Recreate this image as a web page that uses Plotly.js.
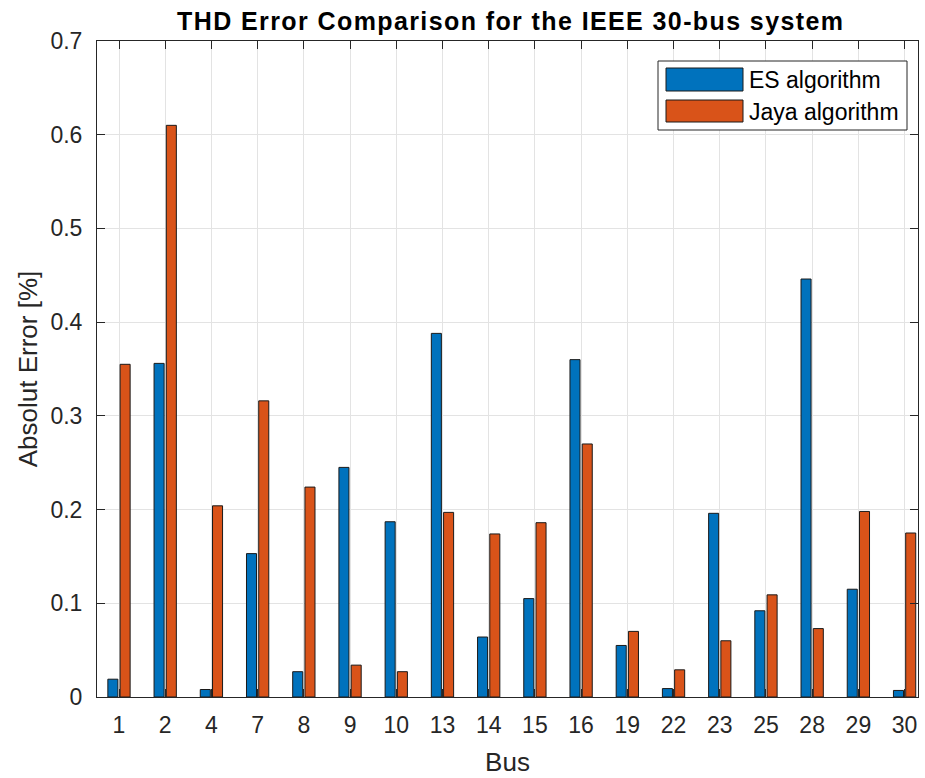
<!DOCTYPE html>
<html>
<head>
<meta charset="utf-8">
<script src="https://cdn.plot.ly/plotly-3.0.1.min.js"></script>
<style>
  html, body { margin: 0; padding: 0; background: #ffffff; }
  #chart { width: 925px; height: 778px; }
  /* slightly wider tracking for the bold chart title */
  #chart .gtitle { letter-spacing: 1.4px; }
</style>
</head>
<body>
<div id="chart"></div>
<script>
// Bus numbers of the IEEE 30-bus system shown on the x axis
const busLabels = ['1', '2', '4', '7', '8', '9', '10', '13', '14', '15', '16', '19', '22', '23', '25', '28', '29', '30'];

// Absolute THD error [%] per bus for each algorithm
const esError   = [0.019, 0.356, 0.008, 0.153, 0.027, 0.245, 0.187, 0.388, 0.064, 0.105, 0.360, 0.055, 0.009, 0.196, 0.092, 0.446, 0.115, 0.007];
const jayaError = [0.355, 0.610, 0.204, 0.316, 0.224, 0.034, 0.027, 0.197, 0.174, 0.186, 0.270, 0.070, 0.029, 0.060, 0.109, 0.073, 0.198, 0.175];

const seriesNames = ['ES algorithm', 'Jaya algorithm'];
const yTickVals = [0, 0.1, 0.2, 0.3, 0.4, 0.5, 0.6, 0.7];
const yTickText = ['0', '0.1', '0.2', '0.3', '0.4', '0.5', '0.6', '0.7'];

const colES = '#0072BD';
const colJaya = '#D95319';
const axisCol = '#262626';
const fontFam = 'Liberation Sans, Arial, Helvetica, sans-serif';

const traces = [
  {
    type: 'bar', name: seriesNames[0], x: busLabels, y: esError,
    marker: { color: colES, line: { color: '#1a1a1a', width: 1 } },
    showlegend: false, hoverinfo: 'x+y'
  },
  {
    type: 'bar', name: seriesNames[1], x: busLabels, y: jayaError,
    marker: { color: colJaya, line: { color: '#1a1a1a', width: 1 } },
    showlegend: false, hoverinfo: 'x+y'
  }
];

// Plot area in pixels, used to place the hand-built legend box
const W = 925, H = 778;
const mL = 97, mR = 7, mT = 41, mB = 81;
const pw = W - mL - mR, ph = H - mT - mB;
const px = v => (v - mL) / pw;
const py = v => (H - mB - v) / ph;

const legendShapes = [
  { type: 'rect', xref: 'paper', yref: 'paper', x0: px(658), x1: px(907), y0: py(130), y1: py(61),
    fillcolor: '#ffffff', line: { color: '#262626', width: 1 }, layer: 'above' },
  { type: 'rect', xref: 'paper', yref: 'paper', x0: px(666), x1: px(743), y0: py(91), y1: py(68),
    fillcolor: colES, line: { color: '#1a1a1a', width: 1 }, layer: 'above' },
  { type: 'rect', xref: 'paper', yref: 'paper', x0: px(666), x1: px(743), y0: py(122), y1: py(100),
    fillcolor: colJaya, line: { color: '#1a1a1a', width: 1 }, layer: 'above' }
];

const legendText = [
  { xref: 'paper', yref: 'paper', x: px(747), y: py(80), xanchor: 'left', yanchor: 'middle',
    text: seriesNames[0], showarrow: false, font: { family: fontFam, size: 23, color: '#000000' } },
  { xref: 'paper', yref: 'paper', x: px(747), y: py(112), xanchor: 'left', yanchor: 'middle',
    text: seriesNames[1], showarrow: false, font: { family: fontFam, size: 23, color: '#000000' } }
];

const layout = {
  width: W, height: H,
  margin: { l: mL, r: mR, t: mT, b: mB, pad: 0 },
  paper_bgcolor: '#ffffff', plot_bgcolor: '#ffffff',
  font: { family: fontFam, color: axisCol, size: 23 },
  title: {
    text: '<b>THD Error Comparison for the IEEE 30-bus system</b>',
    font: { family: fontFam, size: 25, color: '#000000' },
    x: 0.504, xref: 'paper', xanchor: 'center',
    y: 1 - 21 / H, yref: 'container', yanchor: 'middle'
  },
  barmode: 'group',
  bargap: 0.47,
  bargroupgap: 0.18,
  xaxis: {
    type: 'category',
    range: [-0.476, 17.29],
    showgrid: true, gridcolor: '#e3e3e3', gridwidth: 1,
    showline: true, linecolor: axisCol, linewidth: 1, mirror: 'ticks',
    ticks: 'inside', ticklen: 8, tickcolor: axisCol, tickwidth: 1,
    ticklabelstandoff: 7,
    tickfont: { family: fontFam, size: 23, color: axisCol },
    title: { text: 'Bus', font: { family: fontFam, size: 26, color: axisCol }, standoff: 16 },
    zeroline: false, fixedrange: true
  },
  yaxis: {
    range: [0, 0.7],
    tickvals: yTickVals, ticktext: yTickText,
    showgrid: true, gridcolor: '#e3e3e3', gridwidth: 1,
    showline: true, linecolor: axisCol, linewidth: 1, mirror: 'ticks',
    ticks: 'inside', ticklen: 8, tickcolor: axisCol, tickwidth: 1,
    ticklabelstandoff: 9,
    tickfont: { family: fontFam, size: 23, color: axisCol },
    title: { text: 'Absolut Error [%]', font: { family: fontFam, size: 26, color: axisCol }, standoff: 5 },
    zeroline: false, fixedrange: true
  },
  shapes: legendShapes,
  annotations: legendText,
  showlegend: false
};

Plotly.newPlot('chart', traces, layout, { displayModeBar: false, staticPlot: true });
</script>
</body>
</html>
